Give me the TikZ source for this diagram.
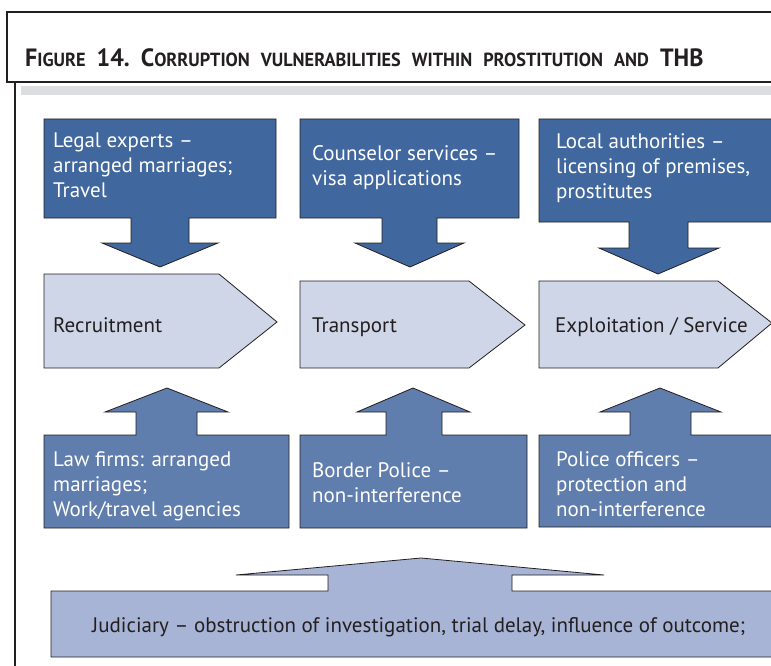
\documentclass[tikz,border=0pt]{standalone}
\usepackage{fontspec}
\setmainfont{PT Sans}
\newfontfamily\titlefam{PT Sans}[UprightFont=*-Bold]
\definecolor{darkblue}{HTML}{41679F}
\definecolor{midblue}{HTML}{5F7DAD}
\definecolor{paleblue}{HTML}{CFD6E8}
\definecolor{judblue}{HTML}{A7B4D5}
\definecolor{ink}{HTML}{231F20}
\definecolor{bargray}{HTML}{DCDDDF}
\newcommand\tbig[1]{{\fontsize{25}{25}\selectfont #1}}
\newcommand\tsml[1]{{\fontsize{19}{19}\selectfont #1}}
\newcommand\tgap{\hspace{11.5pt}}
\tikzset{
  topshape/.style={fill=darkblue, draw=ink, line width=0.8pt},
  botshape/.style={fill=midblue, draw=ink, line width=0.8pt},
  stageshape/.style={fill=paleblue, draw=ink, line width=0.8pt},
  judshape/.style={fill=judblue, draw=ink, line width=0.8pt},
  wtext/.style={anchor=base west, inner sep=0pt, align=left, text=white, font=\fontsize{21}{24.8}\selectfont},
  dtext/.style={anchor=base west, inner sep=0pt, align=left, text=ink, font=\fontsize{21}{24.8}\selectfont},
}
\begin{document}
\begin{tikzpicture}[x=1pt,y=-1pt]
\useasboundingbox (0,0) rectangle (771,666);
\clip (0,0) rectangle (771,666);
% frame
\draw[ink, line width=1.6pt] (15,82) -- (15,672);
\fill[bargray] (21,86) rectangle (790,95);
\draw[ink, line width=1.6pt, fill=white] (7,12) rectangle (790,82);
\node[anchor=base west, inner sep=0pt, text=ink, font=\titlefam] (title) at (25,67)
  {\scalebox{0.96}[1]{\tbig{F}\tsml{IGURE}\tgap\tbig{14.}\tgap\tbig{C}\tsml{ORRUPTION}\tgap\tsml{VULNERABILITIES}\tgap\tsml{WITHIN}\tgap\tsml{PROSTITUTION}\tgap\tsml{AND}\tgap\tbig{THB}}};
% top row
\draw[topshape] (44,119) -- (276,119) -- (276,218) -- (189,218) -- (189,243) -- (218,243) -- (160,267) -- (102,243) -- (131,243) -- (131,218) -- (44,218) -- cycle;
\draw[topshape] (300,119) -- (519,119) -- (519,218) -- (437,218) -- (437,243) -- (464,243) -- (410,267) -- (355,243) -- (382,243) -- (382,218) -- (300,218) -- cycle;
\draw[topshape] (539,119) -- (790,119) -- (790,222) -- (688,222) -- (688,248) -- (719,248) -- (658,274) -- (599,248) -- (629,248) -- (629,222) -- (539,222) -- cycle;
\node[wtext] (legal) at (53,197) {Legal experts –\\arranged marriages;\\Travel};
\node[wtext] (couns) at (312,185) {Counselor services –\\visa applications};
\node[wtext] (local) at (556,198) {Local authorities –\\licensing of premises,\\prostitutes};
% stages
\draw[stageshape] (44,274) -- (219,274) -- (277,322) -- (219,368) -- (44,368) -- cycle;
\draw[stageshape] (300,281) -- (469,281) -- (525,325) -- (469,368) -- (300,368) -- cycle;
\draw[stageshape] (539,281) -- (718,281) -- (772,323) -- (718,368) -- (539,368) -- cycle;
\node[dtext] (recr) at (53,332) {Recruitment};
\node[dtext] (trans) at (312,332) {Transport};
\node[dtext] (expl) at (555,332) {Exploitation / Service};
% bottom row
\draw[botshape] (167,388) -- (228,412) -- (197,412) -- (197,435) -- (289,435) -- (289,528) -- (44,528) -- (44,435) -- (136,435) -- (136,412) -- (105,412) -- cycle;
\draw[botshape] (413,388) -- (470,412) -- (442,412) -- (442,435) -- (527,435) -- (527,528) -- (300,528) -- (300,435) -- (386,435) -- (386,412) -- (357,412) -- cycle;
\draw[botshape] (660,388) -- (721,412) -- (691,412) -- (691,435) -- (790,435) -- (790,527) -- (539,527) -- (539,435) -- (630,435) -- (630,412) -- (600,412) -- cycle;
\node[wtext] (law) at (53,516) {Law firms: arranged\\marriages;\\Work/travel agencies};
\node[wtext] (border) at (312,502) {Border Police –\\non-interference};
\node[wtext] (police) at (556,516) {Police officers –\\protection and\\non-interference};
% judiciary
\draw[judshape] (421,558) -- (604,575) -- (512,575) -- (512,591) -- (790,591) -- (790,657) -- (51,657) -- (51,591) -- (328,591) -- (328,575) -- (236,575) -- cycle;
\node[dtext] (jud) at (92,632) {Judiciary – obstruction of investigation, trial delay, influence of outcome;};
\end{tikzpicture}
\end{document}
